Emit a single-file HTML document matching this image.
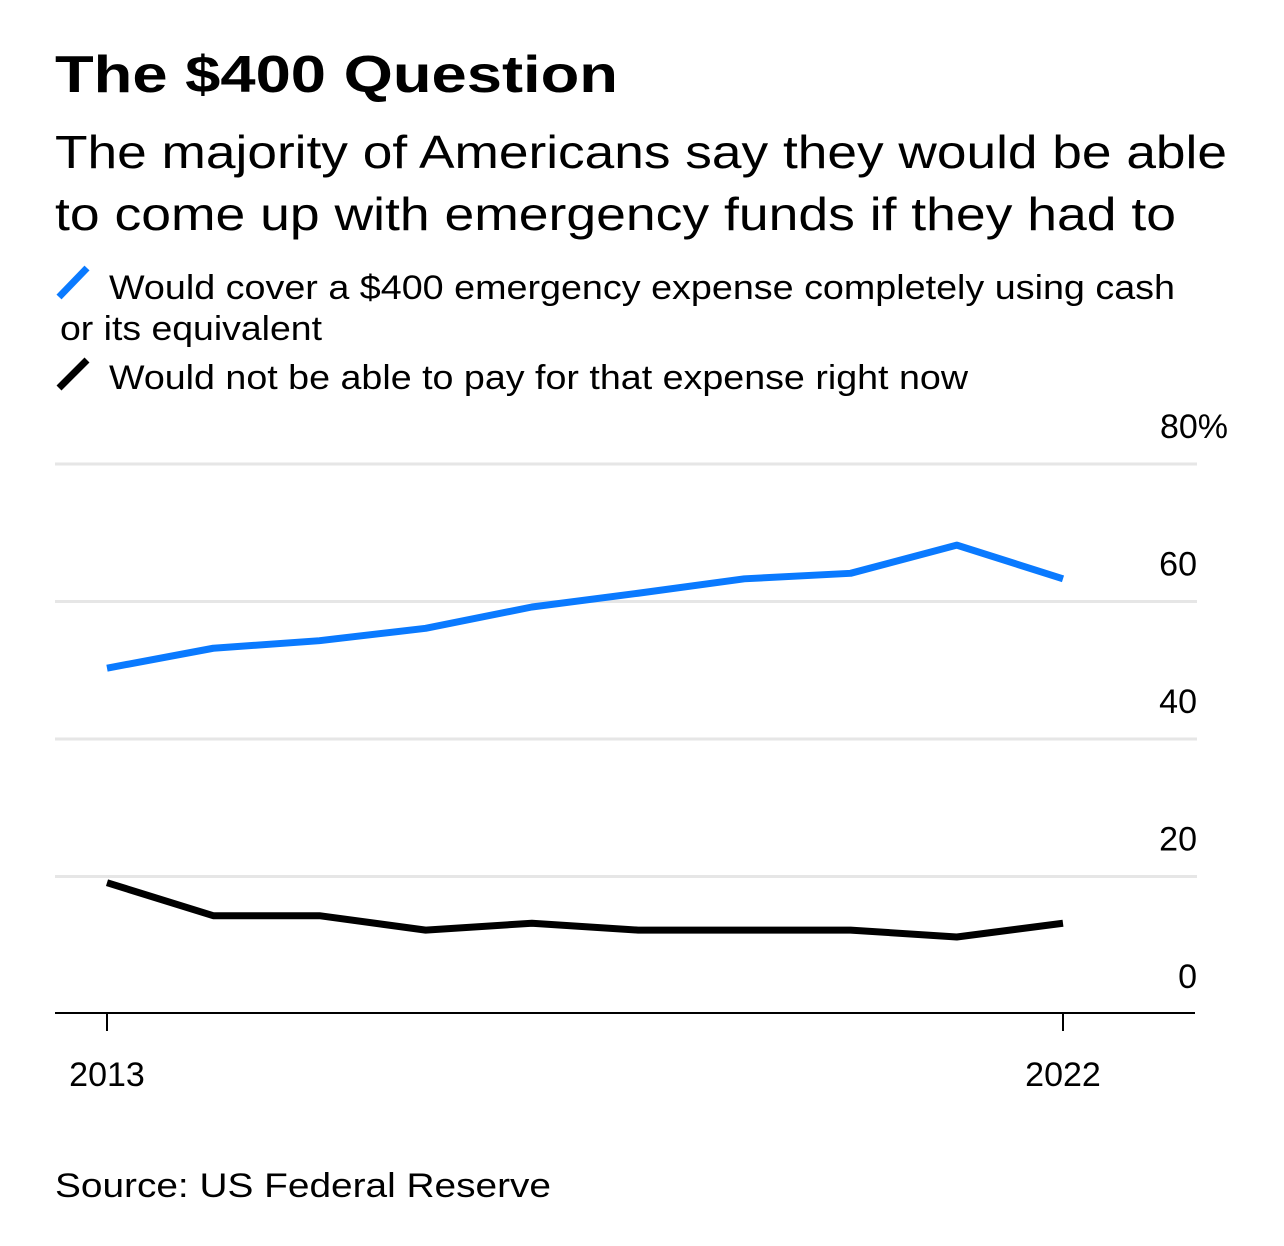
<!DOCTYPE html>
<html><head><meta charset="utf-8"><style>
html,body{margin:0;padding:0;background:#fff;}
svg{display:block;font-family:"Liberation Sans",Arial,sans-serif;}
</style></head><body>
<svg id="chart" width="1284" height="1246" viewBox="0 0 1284 1246" xmlns="http://www.w3.org/2000/svg">
<text x="55" y="92" font-size="52" font-weight="bold" textLength="563" lengthAdjust="spacingAndGlyphs">The $400 Question</text>
<text x="55" y="168" font-size="46" textLength="1172" lengthAdjust="spacingAndGlyphs">The majority of Americans say they would be able</text>
<text x="55" y="230" font-size="46" textLength="1121" lengthAdjust="spacingAndGlyphs">to come up with emergency funds if they had to</text>
<g>
<line x1="59" y1="297" x2="87" y2="268" stroke="#0a7aff" stroke-width="7"/>
<text x="109" y="299" font-size="34" textLength="1066" lengthAdjust="spacingAndGlyphs">Would cover a $400 emergency expense completely using cash</text>
<text x="60" y="340" font-size="34" textLength="262" lengthAdjust="spacingAndGlyphs">or its equivalent</text>
</g>
<g>
<line x1="59" y1="388" x2="87" y2="360" stroke="#000" stroke-width="7"/>
<text x="109" y="389" font-size="34" textLength="859" lengthAdjust="spacingAndGlyphs">Would not be able to pay for that expense right now</text>
</g>
<g id="grid"></g>
<g id="series"></g>
<text x="55" y="1197" font-size="34" textLength="496" lengthAdjust="spacingAndGlyphs">Source: US Federal Reserve</text>
</svg>
<script>
const years=[2013,2014,2015,2016,2017,2018,2019,2020,2021,2022];
const cashValues=[50.3,53.2,54.3,56.1,59.2,61.2,63.3,64.1,68.2,63.3];
const unableValues=[19.1,14.3,14.3,12.2,13.2,12.2,12.2,12.2,11.2,13.2];
const yTicks=[0,20,40,60,80];
const yTickLabels=["0","20","40","60","80%"];
const xTickYears=[2013,2022];
const ns="http://www.w3.org/2000/svg";
const x=v=>107+(v-2013)*(1063-107)/9;
const y=v=>1014-v*6.875;
const grid=document.getElementById('grid');
const series=document.getElementById('series');
function mk(tag,attrs,parent){const e=document.createElementNS(ns,tag);for(const k in attrs)e.setAttribute(k,attrs[k]);parent.appendChild(e);return e;}
yTicks.forEach((t,i)=>{
  if(t>0){const g=mk('line',{x1:55,x2:1197,y1:y(t),y2:y(t),stroke:'#e6e6e6','stroke-width':3},grid);
  
  }
  const tx=mk('text',{x:(t===80?1228:1197),y:y(t)-26,'font-size':34,'text-anchor':'end'},grid);
  tx.textContent=yTickLabels[i];
  
  
});
const ax=mk('line',{x1:55,x2:1195,y1:1013,y2:1013,stroke:'#000','stroke-width':2},grid);


xTickYears.forEach(yr=>{
  const tk=mk('line',{x1:x(yr),x2:x(yr),y1:1013,y2:1031,stroke:'#000','stroke-width':2},grid);
  
  
  const tl=mk('text',{x:x(yr),y:1086,'font-size':34,'text-anchor':'middle'},grid);
  tl.textContent=yr;
  
  
});
function line(vals,color,name){
  const p=mk('polyline',{points:vals.map((v,i)=>x(years[i])+','+y(v)).join(' '),fill:'none',stroke:color,'stroke-width':7,'stroke-linejoin':'round'},series);
  
  
}
line(cashValues,'#0a7aff','line-cash');
line(unableValues,'#000','line-unable');
</script>
</body></html>
